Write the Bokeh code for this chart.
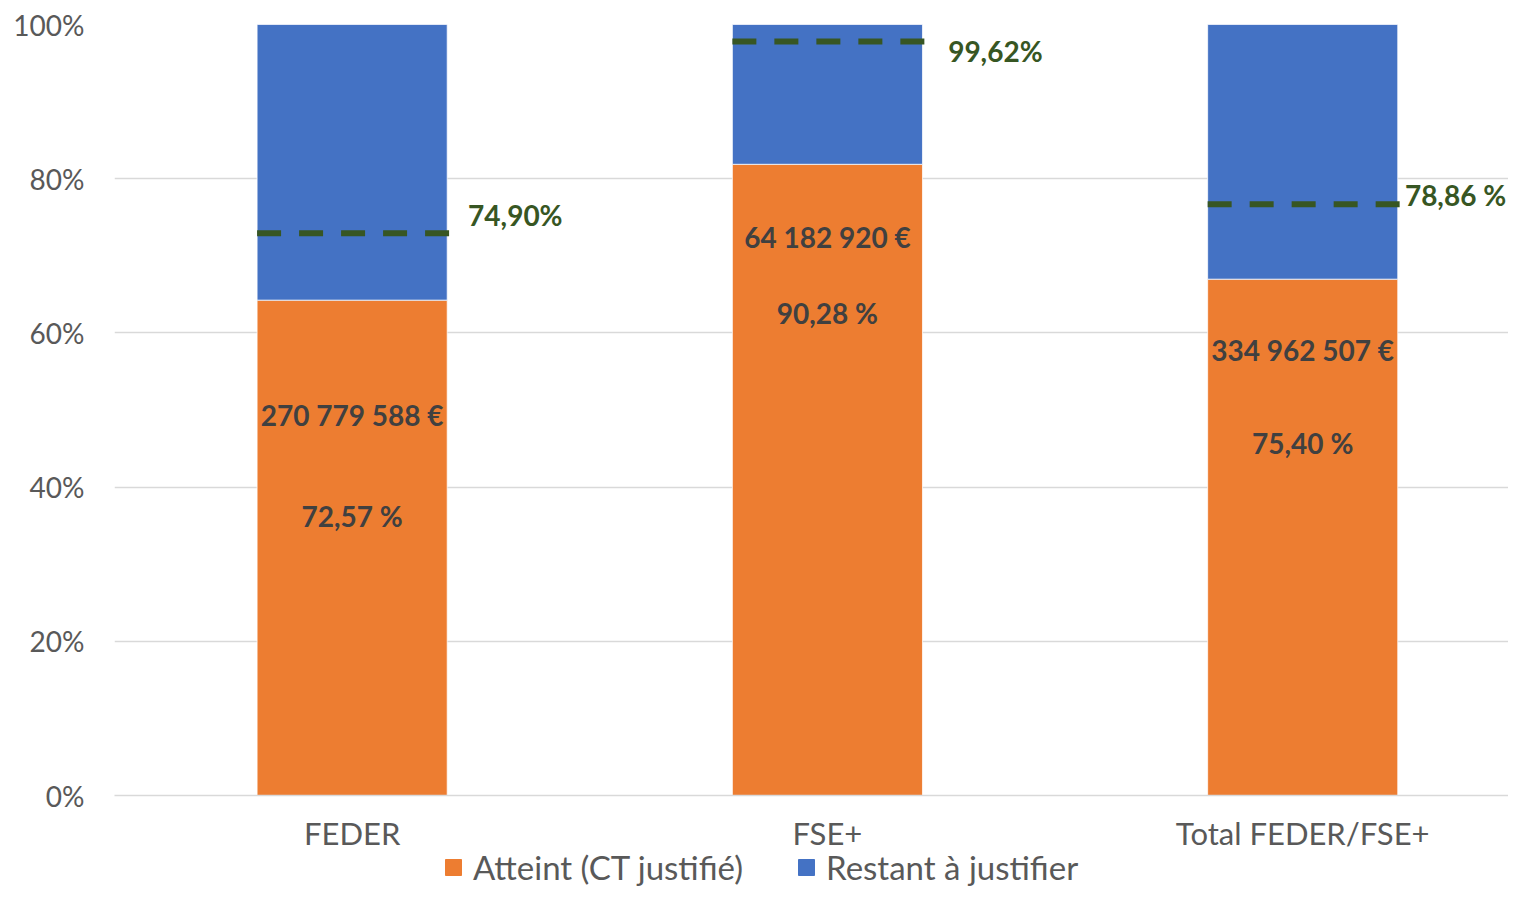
from bokeh.plotting import figure
from bokeh.models import (ColumnDataSource, Range1d, FixedTicker, Legend, LegendItem,
                          PrintfTickFormatter)
from bokeh.layouts import column
from bokeh.core.properties import value
from bokeh.embed import file_html
from bokeh.resources import INLINE

# ---- data ----
categories = ["FEDER", "FSE+", "Total FEDER/FSE+"]
atteint = [64.25, 81.87, 66.97]          # % of bar (orange)
restant = [35.75, 18.13, 33.03]          # % of bar (blue)
targets = [72.93, 97.80, 76.68]          # dashed target level
target_labels = ["74,90%", "99,62%", "78,86 %"]
amount_labels = ["270 779 588 €", "64 182 920 €", "334 962 507 €"]
pct_labels = ["72,57 %", "90,28 %", "75,40 %"]
series_names = ["Atteint (CT justifié)", "Restant à justifier"]

# ---- layout of labels (positions, not data) ----
amount_label_y = [49.35, 72.4, 57.8]
pct_label_y = [36.3, 62.6, 45.7]
target_label_dx = [0.244, 0.254, 0.215]
target_label_y = [75.3, 96.6, 77.85]

ORANGE = "#ED7D31"
BLUE = "#4472C4"
GREEN = "#375623"
FONT = "Lato"
BAR_W = 0.4

xs = list(range(len(categories)))
src = ColumnDataSource(dict(x=xs, atteint=atteint, restant=restant))

p = figure(width=1508, height=854, output_backend="svg", toolbar_location=None,
           x_range=Range1d(-0.5, 2.433), y_range=Range1d(0, 100),
           min_border_left=114, min_border_top=24, min_border_bottom=58, min_border_right=0)
p.outline_line_color = None
p.background_fill_color = "white"
p.border_fill_color = "white"

renderers = p.vbar_stack(["atteint", "restant"], x="x", width=BAR_W, color=[ORANGE, BLUE],
                         line_color="white", line_width=0.75, source=src)

# target dashed segments
seg_src = ColumnDataSource(dict(x0=[x - BAR_W / 2 for x in xs], x1=[x + BAR_W / 2 + 0.005 for x in xs],
                                y=targets))
p.segment(x0="x0", y0="y", x1="x1", y1="y", source=seg_src, line_color=GREEN,
          line_width=6, line_dash="24 18")

# target labels
tl_src = ColumnDataSource(dict(x=[x + d for x, d in zip(xs, target_label_dx)], y=target_label_y,
                               t=target_labels))
p.text(x="x", y="y", text="t", source=tl_src, text_font=value(FONT), text_font_style="bold",
       text_font_size="28px", text_color=GREEN, text_align="left", text_baseline="middle")

# data labels
dl_src = ColumnDataSource(dict(x=xs, ya=amount_label_y, yp=pct_label_y,
                               a=amount_labels, pc=pct_labels))
for col_y, col_t in (("ya", "a"), ("yp", "pc")):
    p.text(x="x", y=col_y, text=col_t, source=dl_src, text_font=value(FONT), text_font_style="bold",
           text_font_size="28px", text_color="#404040", text_align="center", text_baseline="middle")

# axes
p.xgrid.grid_line_color = None
p.ygrid.grid_line_color = "#D9D9D9"
p.ygrid.grid_line_width = 1.5
p.yaxis.ticker = FixedTicker(ticks=[0, 20, 40, 60, 80, 100])
p.yaxis.formatter = PrintfTickFormatter(format="%d%%")
p.yaxis.axis_line_color = None
p.yaxis.major_tick_line_color = None
p.yaxis.minor_tick_line_color = None
p.yaxis.major_label_standoff = 24
p.yaxis.major_label_text_font = FONT
p.yaxis.major_label_text_font_size = "28px"
p.yaxis.major_label_text_color = "#595959"

p.xaxis.ticker = FixedTicker(ticks=xs)
p.xaxis.major_label_overrides = {i: c for i, c in enumerate(categories)}
p.xaxis.axis_line_color = "#D9D9D9"
p.xaxis.axis_line_width = 1.5
p.xaxis.major_tick_line_color = None
p.xaxis.minor_tick_line_color = None
p.xaxis.major_label_standoff = 12
p.xaxis.major_label_text_font = FONT
p.xaxis.major_label_text_font_size = "31px"
p.xaxis.major_label_text_color = "#595959"

# ---- legend strip (separate small figure under the chart) ----
leg = figure(width=1508, height=33, output_backend="svg", toolbar_location=None,
             x_range=Range1d(0, 1), y_range=Range1d(0, 1), min_border=0,
             x_axis_location=None, y_axis_location=None)
leg.outline_line_color = None
leg.grid.visible = False
# legend-only renderers: one swatch point each, placed outside the visible range
sw1 = ColumnDataSource(dict(x=[5], top=[1]))
sw2 = ColumnDataSource(dict(x=[5], top=[1]))
r1 = leg.vbar(x="x", top="top", width=0.1, source=sw1, color=ORANGE)
r2 = leg.vbar(x="x", top="top", width=0.1, source=sw2, color=BLUE)
legend = Legend(items=[LegendItem(label=series_names[0], renderers=[r1]),
                       LegendItem(label=series_names[1], renderers=[r2])],
                orientation="horizontal", location=(329, 0),
                padding=0, margin=0, spacing=53, label_standoff=10,
                glyph_width=20, glyph_height=20, border_line_color=None,
                background_fill_alpha=0, label_text_font=FONT, label_text_font_size="33px",
                label_text_color="#595959")
leg.add_layout(legend, "center")

layout = column(p, leg, spacing=0)
open("out.html", "w").write(file_html(layout, INLINE))
